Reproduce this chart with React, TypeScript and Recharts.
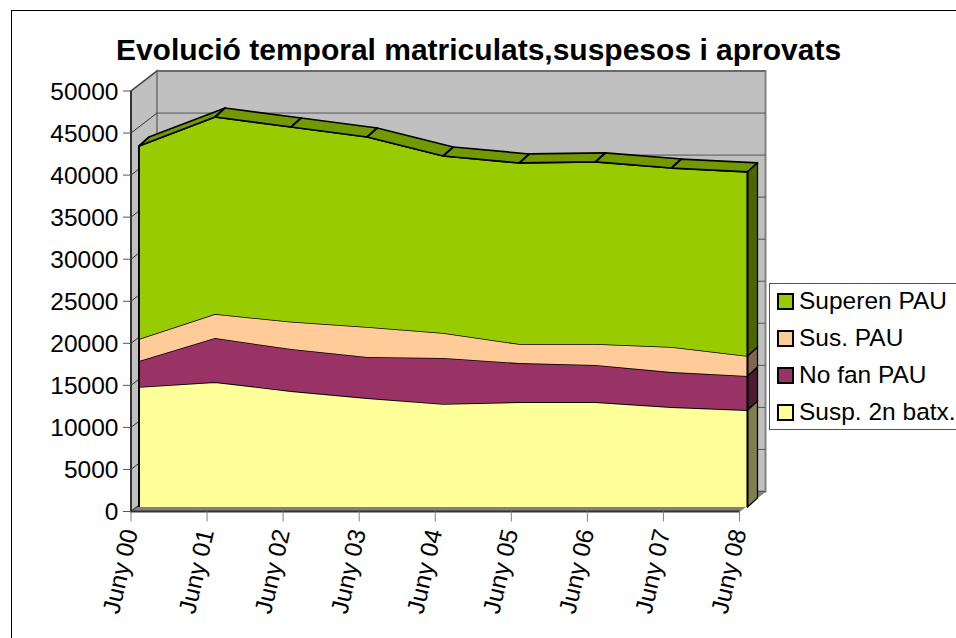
import React from 'react';
import { AreaChart, Area, XAxis, YAxis, CartesianGrid, Legend } from 'recharts';

const categories = ['Juny 00','Juny 01','Juny 02','Juny 03','Juny 04','Juny 05','Juny 06','Juny 07','Juny 08'];
const suspBatx = [14270,14860,13790,12960,12250,12480,12480,11890,11530];
const noFan = [3090,5235,4997,4876,5467,4642,4405,4162,4047];
const susPau = [2616,2854,3247,3567,2973,2260,2497,2973,2378];
const superen = [22949,23424,23150,22592,21046,21522,21641,21284,21879];
const yTicks = [0,5000,10000,15000,20000,25000,30000,35000,40000,45000,50000];

const data = categories.map((name, i) => ({
  name,
  susp: suspBatx[i],
  nofan: noFan[i],
  sus: susPau[i],
  sup: superen[i],
}));

const W = 956, H = 638;
const AX_L = 131, AX_R = 739.5, AX_T = 91, AX_B = 511.5;
const FRONT = { dx: 8, dy: -4.5 };
const DEPTH = { dx: 10, dy: -9 };
const BACK = { dx: 26, dy: -20 };
const PLOT_H = AX_B - AX_T;
const MAX = 50000;

const seriesDefs = [
  { key: 'susp', name: 'Susp. 2n batx.', fill: '#FFFF99', side: '#80804D' },
  { key: 'nofan', name: 'No fan PAU', fill: '#993366', side: '#4D1A33' },
  { key: 'sus', name: 'Sus. PAU', fill: '#FFCC99', side: '#806650' },
  { key: 'sup', name: 'Superen PAU', fill: '#99CC00', side: '#4D6600' },
];

const layer: React.CSSProperties = { position: 'absolute', left: 0, top: 0 };
const font = '"Liberation Sans", Arial, sans-serif';

function marginFor(dx: number, dy: number, reserve = 0) {
  return {
    left: AX_L + dx - reserve,
    right: W - (AX_R + dx),
    top: AX_T + dy,
    bottom: H - (AX_B + dy) - reserve,
  };
}

const YTick = (p: any) => (
  <g>
    <line x1={AX_L} y1={p.y} x2={AX_L + BACK.dx} y2={p.y + BACK.dy} stroke="#333" strokeWidth={1} />
    <text x={118.5} y={p.y + 8.5} textAnchor="end" fontFamily={font} fontSize={24.5} fill="#000">{p.payload.value}</text>
  </g>
);

const XTick = (p: any) => (
  <g transform={`translate(${p.x + 7},${p.y + 8}) rotate(-77)`}>
    <text x={0} y={0} textAnchor="end" fontFamily={font} fontSize={24.5} fill="#000">{p.payload.value}</text>
  </g>
);

function edges(def: typeof seriesDefs[number], isTop: boolean) {
  return (p: any) => {
    const { cx, cy, index, points, payload } = p;
    const last = index === categories.length - 1;
    const first = index === 0;
    const bottom = cy + (payload[def.key] * PLOT_H) / MAX;
    const parts: React.ReactNode[] = [];
    const next = points && points[index + 1];
    if (isTop && next) {
      parts.push(
        <polygon key="r"
          points={`${cx},${cy} ${next.x},${next.y} ${next.x + DEPTH.dx},${next.y + DEPTH.dy} ${cx + DEPTH.dx},${cy + DEPTH.dy}`}
          fill="#739900" stroke="#000" strokeWidth={1.75} strokeLinejoin="round" />
      );
    }
    if (last) {
      parts.push(
        <polygon key="s"
          points={`${cx},${cy} ${cx + DEPTH.dx},${cy + DEPTH.dy} ${cx + DEPTH.dx},${bottom + DEPTH.dy} ${cx},${bottom}`}
          fill={def.side} stroke="#000" strokeWidth={1.25} />
      );
    }
    if (first || last) {
      parts.push(<line key="v" x1={cx} y1={cy} x2={cx} y2={bottom} stroke="#000" strokeWidth={2} />);
    }
    return <g key={`${def.key}-${index}`}>{parts}</g>;
  };
}

const LegendBox = () => (
  <div style={{ width: 200, height: 147, boxSizing: 'border-box', border: '1px solid #555', background: '#fff', position: 'relative', fontFamily: font, fontSize: 24.5, color: '#000' }}>
    {[...seriesDefs].reverse().map((s, i) => (
      <div key={s.key} style={{ position: 'absolute', left: 0, top: 9 + i * 37, height: 18 }}>
        <span style={{ position: 'absolute', left: 7, top: 0, width: 17, height: 17, boxSizing: 'border-box', border: '2px solid #000', background: s.fill }} />
        <span style={{ position: 'absolute', left: 29, top: -6, whiteSpace: 'nowrap', lineHeight: '28px' }}>{s.name}</span>
      </div>
    ))}
  </div>
);

export default function App() {
  const wall = { fill: '#C0C0C0', stroke: '#808080', strokeWidth: 2 };
  const b = BACK;
  return (
    <div style={{ position: 'absolute', left: 0, top: 0, width: W, height: H, overflow: 'hidden', background: '#fff' }}>
      <div style={{ position: 'absolute', left: 11, top: 10, width: 1200, height: 900, border: '1px solid #000' }} />

      {/* walls, floor and axes */}
      <div style={layer}>
        <AreaChart width={W} height={H} data={data} margin={marginFor(0, 0, 70)}>
          <polygon points={`${AX_L + b.dx},${AX_T + b.dy} ${AX_R + b.dx},${AX_T + b.dy} ${AX_R + b.dx},${AX_B + b.dy} ${AX_L + b.dx},${AX_B + b.dy}`} {...wall} />
          <polygon points={`${AX_L},${AX_T} ${AX_L + b.dx},${AX_T + b.dy} ${AX_L + b.dx},${AX_B + b.dy} ${AX_L},${AX_B}`} {...wall} />
          <polygon points={`${AX_L},${AX_B} ${AX_R},${AX_B} ${AX_R + b.dx},${AX_B + b.dy} ${AX_L + b.dx},${AX_B + b.dy}`} fill="#808080" stroke="#808080" />
          <text x={478.5} y={60} textAnchor="middle" fontFamily={font} fontWeight="bold" fontSize={30} fill="#000">
            Evolució temporal matriculats,suspesos i aprovats
          </text>
          <XAxis dataKey="name" scale="point" interval={0} height={70} tickSize={10} tick={XTick}
            axisLine={{ stroke: '#333', strokeWidth: 2 }} tickLine={{ stroke: '#808080' }} />
          <YAxis width={70} domain={[0, MAX]} ticks={yTicks} interval={0} tickSize={8} tick={YTick}
            axisLine={{ stroke: '#333', strokeWidth: 2 }} tickLine={{ stroke: '#555' }} />
          <Area dataKey="sup" stroke="none" fill="none" legendType="none" isAnimationActive={false} dot={false} activeDot={false} />
        </AreaChart>
      </div>

      {/* back wall gridlines */}
      <div style={layer}>
        <AreaChart width={W} height={H} data={data} margin={marginFor(BACK.dx, BACK.dy)}>
          <CartesianGrid vertical={false} stroke="#555" strokeWidth={1} />
          <XAxis dataKey="name" scale="point" hide />
          <YAxis domain={[0, MAX]} ticks={yTicks} hide />
          <Area dataKey="sup" stroke="none" fill="none" legendType="none" isAnimationActive={false} dot={false} activeDot={false} />
        </AreaChart>
      </div>

      {/* stacked front face */}
      <div style={layer}>
        <AreaChart width={W} height={H} data={data} margin={marginFor(FRONT.dx, FRONT.dy)}>
          <XAxis dataKey="name" scale="point" hide />
          <YAxis domain={[0, MAX]} ticks={yTicks} hide />
          <Legend layout="vertical" align="center" verticalAlign="middle" content={<LegendBox />}
            wrapperStyle={{ left: 769, top: 283, width: 200, height: 147, margin: 0 }} />
          {seriesDefs.map((s, i) => (
            <Area key={s.key} type="linear" dataKey={s.key} name={s.name} stackId="a"
              fill={s.fill} fillOpacity={1} stroke="#000" strokeWidth={1.75}
              isAnimationActive={false} activeDot={false}
              dot={edges(s, i === seriesDefs.length - 1)} />
          ))}
        </AreaChart>
      </div>
    </div>
  );
}
